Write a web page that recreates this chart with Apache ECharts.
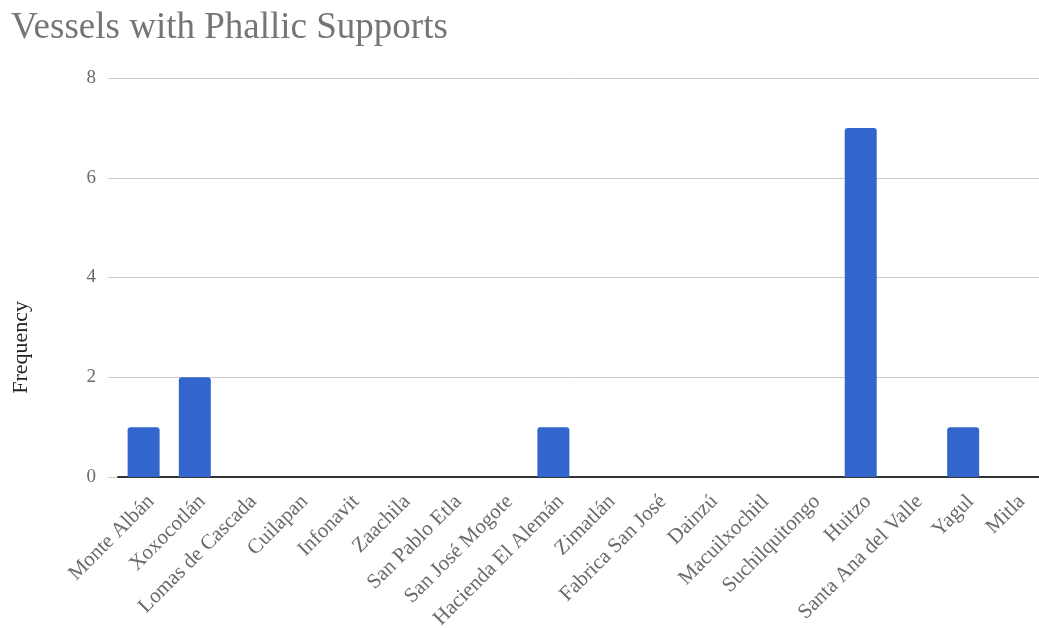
<!DOCTYPE html>
<html>
<head>
<meta charset="utf-8">
<script src="https://cdn.jsdelivr.net/npm/echarts@6/dist/echarts.min.js"></script>
<style>
html,body{margin:0;padding:0;background:#fff;}
#chart{width:1039px;height:628px;}
</style>
</head>
<body>
<div id="chart"></div>
<script>
const titleText = "Vessels with Phallic Supports";
const yAxisName = "Frequency";
const categories = ["Monte Albán","Xoxocotlán","Lomas de Cascada","Cuilapan","Infonavit","Zaachila","San Pablo Etla","San José Mogote","Hacienda El Alemán","Zimatlán","Fabrica San José","Dainzú","Macuilxochitl","Suchilquitongo","Huitzo","Santa Ana del Valle","Yagul","Mitla"];
const frequency = [1,2,0,0,0,0,0,0,1,0,0,0,0,0,7,0,1,0];
const yTicks = {min:0, max:8, interval:2};

const serif = '"Liberation Serif","DejaVu Serif",serif';
const chart = echarts.init(document.getElementById('chart'), null, {renderer:'canvas'});
chart.setOption({
  animation:false,
  backgroundColor:'#fff',
  title:{text:titleText,left:6,top:5,textStyle:{fontFamily:serif,fontSize:37,fontWeight:'normal',color:'#757575'}},
  graphic:[{type:'text',left:10,top:301,rotation:Math.PI/2,style:{text:yAxisName,font:'22px '+serif,fill:'#222'}}],
  grid:[
    {left:118,top:78,bottom:151,width:922,containLabel:false,outerBoundsMode:'none'},
    {left:108,top:78,bottom:151,right:0,containLabel:false,outerBoundsMode:'none'}
  ],
  xAxis:[
    {type:'category',gridIndex:0,data:categories,
     axisLine:{lineStyle:{color:'#333',width:2}},axisTick:{show:false},
     axisLabel:{interval:0,rotate:45,margin:14,verticalAlign:'top',fontFamily:serif,fontSize:21,color:'#6a6a6a'}},
    {type:'value',gridIndex:1,show:false,min:0,max:1}
  ],
  yAxis:[
    {type:'value',gridIndex:0,min:yTicks.min,max:yTicks.max,interval:yTicks.interval,
     axisLine:{show:false},axisTick:{show:false},splitLine:{show:false},
     axisLabel:{show:false}},
    {type:'value',gridIndex:1,min:yTicks.min,max:yTicks.max,interval:yTicks.interval,
     axisLine:{show:false},axisTick:{show:false},
     splitLine:{lineStyle:{color:'#cccccc',width:1}},
     axisLabel:{margin:12,fontFamily:serif,fontSize:19,color:'#6a6a6a'}}
  ],
  series:[{type:'bar',xAxisIndex:0,yAxisIndex:0,data:frequency,barWidth:32,
    itemStyle:{color:'#3366cc',borderRadius:[3,3,0,0]},z:3}]
});
</script>
</body>
</html>
